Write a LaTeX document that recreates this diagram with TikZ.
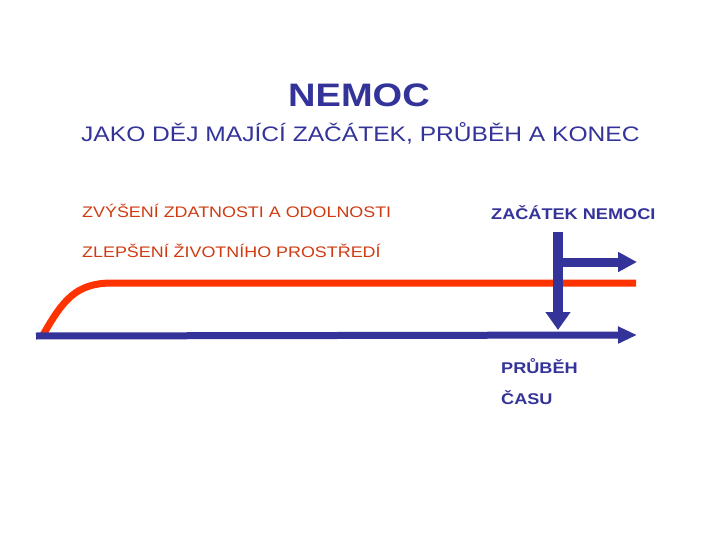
\documentclass[tikz,border=0pt]{standalone}
\usepackage{fontspec}
\setmainfont{Liberation Sans}[FakeStretch=1.17]
\usetikzlibrary{arrows.meta}
\definecolor{nemocblue}{HTML}{333399}
\definecolor{nemocred}{HTML}{FF3300}
\definecolor{nemoctext}{HTML}{D03A10}

\begin{document}
\begin{tikzpicture}[x=1pt, y=-1pt,
  label text/.style={anchor=base west, inner sep=0pt},
  blue arrow/.style={color=nemocblue, line width=#1}]
\useasboundingbox (0,0) rectangle (720,540);

\node[label text, anchor=base, color=nemocblue, font=\fontsize{32.5}{36}\selectfont\bfseries] (title) at (359,107) {NEMOC};
\node[label text, color=nemocblue, font=\fontsize{21}{24}\selectfont] (subtitle) at (81,142) {JAKO DĚJ MAJÍCÍ ZAČÁTEK, PRŮBĚH A KONEC};

\node[label text, color=nemoctext, font=\fontsize{15.3}{18}\selectfont] (fitness) at (82,218) {ZVÝŠENÍ ZDATNOSTI A ODOLNOSTI};
\node[label text, color=nemoctext, font=\fontsize{15.3}{18}\selectfont] (environment) at (82,257) {ZLEPŠENÍ ŽIVOTNÍHO PROSTŘEDÍ};

\node[label text, color=nemocblue, font=\fontsize{15.5}{18}\selectfont\bfseries] (onset) at (491,219) {ZAČÁTEK NEMOCI};
\node[label text, color=nemocblue, font=\fontsize{15.5}{18}\selectfont\bfseries] (course) at (501,373) {PRŮBĚH};
\node[label text, color=nemocblue, font=\fontsize{15.5}{18}\selectfont\bfseries] (time) at (501,404) {ČASU};

\coordinate (time start) at (36,336);
\coordinate (time end) at (637,335);
\coordinate (health start) at (43,335);
\coordinate (health end) at (636,283);
\coordinate (onset top) at (558,232);
\coordinate (onset bottom) at (558,330);
\coordinate (onset branch) at (558,262);
\coordinate (onset end) at (637,262);

\draw[nemocred, line width=7pt] (health start) .. controls (63,300) and (76,283) .. (112,283) -- (health end);

\draw[blue arrow=7pt, -{Triangle[length=19pt, width=16pt]}] (time start) -- (time end);
\draw[blue arrow=9pt, -{Triangle[length=19pt, width=19pt]}] (onset branch) -- (onset end);
\draw[blue arrow=10pt, -{Triangle[length=18pt, width=24pt]}] (onset top) -- (onset bottom);
\end{tikzpicture}
\end{document}
